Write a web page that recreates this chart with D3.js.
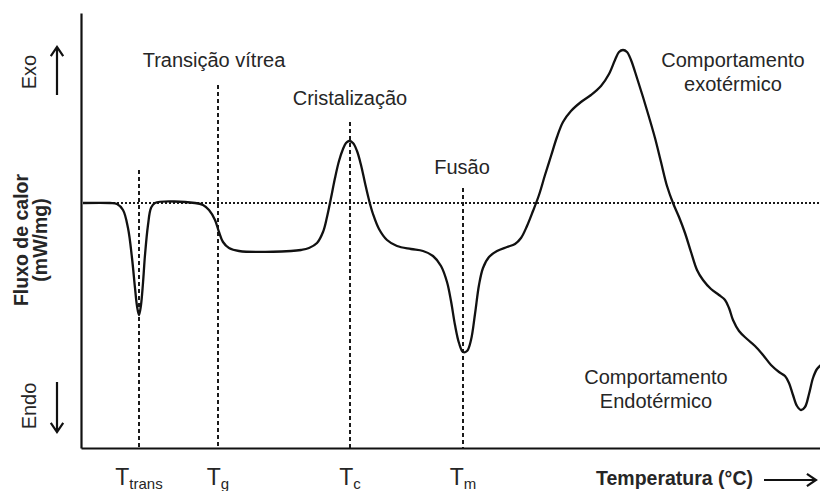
<!DOCTYPE html>
<html>
<head>
<meta charset="utf-8">
<script src="https://cdn.jsdelivr.net/npm/d3@7"></script>
<style>
  body { margin: 0; background: #fff; }
  svg text { font-family: "Liberation Sans", Arial, sans-serif; fill: #262626; }
</style>
</head>
<body>
<svg id="viz"></svg>
<script>
var width = 820;
var height = 491;

// DSC curve, temperature (arbitrary °C) vs heat flux (mW/mg)
var temperature = [21, 34.5, 38, 41, 43.5, 45.5, 47, 48, 49, 50, 51, 52, 53.5, 55, 57,
  77, 81, 84, 87, 89, 91, 94, 99, 125, 130, 134, 138, 141, 143, 145, 147, 149, 151, 152.5,
  154, 156, 158, 160, 162, 164, 166, 169, 173, 178, 185, 191, 196, 200, 203, 205,
  207, 209, 211, 213, 215, 217, 219, 221, 224, 228, 233, 237, 240, 243, 246, 249,
  252, 255, 258, 261, 265, 270, 275, 280, 284, 287, 289, 291, 293, 295, 298, 301,
  304, 307, 310, 313, 316, 319, 322, 325, 328, 331, 335, 339, 342, 344, 346, 349,
  353, 357, 361, 365, 369, 372, 374, 376, 378, 380, 382, 384, 386, 388, 390];
var flux = [0, 0, -0.01, -0.07, -0.25, -0.55, -0.85, -1.03, -1.12, -1.02, -0.80, -0.52, -0.22, -0.05, 0,
  0, -0.02, -0.07, -0.17, -0.29, -0.39, -0.45, -0.48, -0.48, -0.47, -0.45, -0.40, -0.29, -0.14, 0.05, 0.25, 0.42, 0.54, 0.60,
  0.62, 0.60, 0.52, 0.38, 0.20, 0.03, -0.11, -0.26, -0.37, -0.43, -0.46, -0.48, -0.53, -0.63, -0.79, -0.98,
  -1.22, -1.40, -1.49, -1.48, -1.37, -1.11, -0.82, -0.65, -0.54, -0.48, -0.44, -0.41, -0.35, -0.23, -0.08, 0.08,
  0.28, 0.47, 0.66, 0.81, 0.92, 1.01, 1.08, 1.17, 1.29, 1.43, 1.51, 1.53, 1.51, 1.43, 1.25, 1.06,
  0.86, 0.65, 0.41, 0.17, 0, -0.14, -0.30, -0.49, -0.67, -0.77, -0.86, -0.92, -0.97, -1.05, -1.17, -1.28,
  -1.36, -1.43, -1.52, -1.62, -1.69, -1.73, -1.80, -1.92, -2.03, -2.07, -2.04, -1.91, -1.75, -1.66, -1.62];

// characteristic temperatures (vertical dashed markers)
var markerSubs = ["trans", "g", "c", "m"];
var markerTemps = [49, 88.5, 154.5, 211];
var markerTops = [0.33, 1.18, 0.81, 0.15];

var svg = d3.select("#viz")
    .attr("width", width)
    .attr("height", height);

var x = d3.scaleLinear().domain([20, 390]).range([81, 821]);
var y = d3.scaleLinear().domain([-2.45, 1.9]).range([448, 13]);

var points = temperature.map(function (t, i) { return [t, flux[i]]; });

// baseline (dotted)
svg.append("line")
    .attr("x1", x(30)).attr("x2", x(390))
    .attr("y1", y(0)).attr("y2", y(0))
    .attr("stroke", "#1a1a1a")
    .attr("stroke-width", 1.8)
    .attr("stroke-dasharray", "2,2");

// markers
svg.selectAll(".marker")
    .data(markerTemps)
    .enter().append("line")
    .attr("class", "marker")
    .attr("x1", function (d) { return x(d); })
    .attr("x2", function (d) { return x(d); })
    .attr("y1", function (d, i) { return y(markerTops[i]); })
    .attr("y2", y.range()[0])
    .attr("stroke", "#1a1a1a")
    .attr("stroke-width", 2)
    .attr("stroke-dasharray", "4,3");

// curve
var line = d3.line()
    .x(function (d) { return x(d[0]); })
    .y(function (d) { return y(d[1]); })
    .curve(d3.curveCatmullRom.alpha(0.5));

svg.append("path")
    .datum(points)
    .attr("d", line)
    .attr("fill", "none")
    .attr("stroke", "#111")
    .attr("stroke-width", 2.3);

// axes, no ticks
svg.append("g")
    .attr("transform", "translate(" + x.range()[0] + ",0)")
    .call(d3.axisLeft(y).tickValues([]).tickSizeOuter(0))
    .select(".domain").attr("stroke", "#111").attr("stroke-width", 2.2);

svg.append("g")
    .attr("transform", "translate(0," + y.range()[0] + ")")
    .call(d3.axisBottom(x).tickValues([]).tickSizeOuter(0))
    .select(".domain").attr("stroke", "#111").attr("stroke-width", 2.2);

// tick-like labels T_sub
var lab = svg.selectAll(".tlab")
    .data(markerSubs)
    .enter().append("text")
    .attr("class", "tlab")
    .attr("x", function (d, i) { return x(markerTemps[i]); })
    .attr("y", 485)
    .attr("text-anchor", "middle");
lab.append("tspan").style("font-size", "23px").text("T");
lab.append("tspan").attr("dy", 4).style("font-size", "15px").text(function (d) { return d; });

// annotations
function note(txt, cx, cy, size) {
  svg.append("text")
    .attr("x", cx).attr("y", cy)
    .attr("text-anchor", "middle")
    .style("font-size", size || "20px")
    .text(txt);
}
note("Transição vítrea", 214, 67);
note("Cristalização", 350, 105);
note("Fusão", 462, 174);
note("Comportamento", 733, 67);
note("exotérmico", 733, 91);
note("Comportamento", 656, 384);
note("Endotérmico", 656, 408);

// axis titles
svg.append("text")
    .attr("transform", "translate(28,240) rotate(-90)")
    .attr("text-anchor", "middle")
    .style("font-size", "19.5px").style("font-weight", "bold")
    .text("Fluxo de calor");
svg.append("text")
    .attr("transform", "translate(47,240) rotate(-90)")
    .attr("text-anchor", "middle")
    .style("font-size", "19.5px").style("font-weight", "bold")
    .text("(mW/mg)");

svg.append("text")
    .attr("transform", "translate(36,72) rotate(-90)")
    .attr("text-anchor", "middle")
    .style("font-size", "20px")
    .text("Exo");
svg.append("text")
    .attr("transform", "translate(36,406) rotate(-90)")
    .attr("text-anchor", "middle")
    .style("font-size", "20px")
    .text("Endo");

svg.append("text")
    .attr("x", 596).attr("y", 485)
    .style("font-size", "19.5px").style("font-weight", "bold")
    .text("Temperatura (°C)");

// arrows
function arrow(x1, y1, x2, y2) {
  var a = Math.atan2(y2 - y1, x2 - x1), h = 11, s = 0.6;
  var p = d3.path();
  p.moveTo(x1, y1); p.lineTo(x2, y2);
  p.moveTo(x2 - h * Math.cos(a - s), y2 - h * Math.sin(a - s));
  p.lineTo(x2, y2);
  p.lineTo(x2 - h * Math.cos(a + s), y2 - h * Math.sin(a + s));
  svg.append("path").attr("d", p.toString())
    .attr("fill", "none").attr("stroke", "#111").attr("stroke-width", 2.2);
}
arrow(57, 95, 57, 47);
arrow(57, 382, 57, 432);
arrow(764, 480, 816, 480);
</script>
</body>
</html>
